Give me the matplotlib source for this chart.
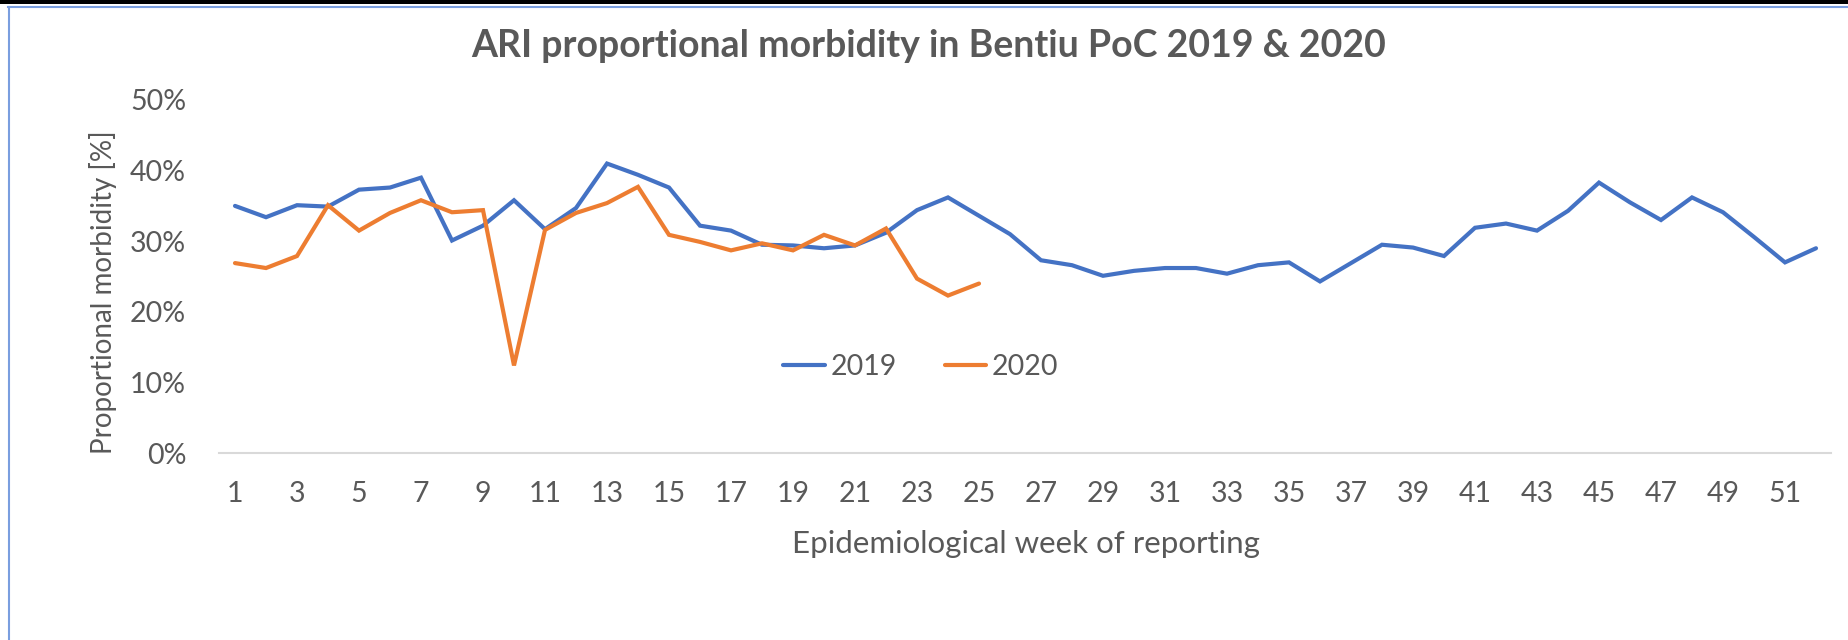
import matplotlib

matplotlib.use("Agg")
import matplotlib.pyplot as plt
from matplotlib.lines import Line2D
from matplotlib.patches import Rectangle

# --- data ---
weeks = list(range(1, 53))
ari_2019 = [35.0, 33.4, 35.1, 34.9, 37.3, 37.6, 39.0, 30.1, 32.2, 35.8,
            31.7, 34.7, 41.0, 39.4, 37.6, 32.2, 31.5, 29.5, 29.4, 29.0,
            29.4, 31.2, 34.4, 36.2, 33.6, 31.0, 27.3, 26.6, 25.1, 25.8,
            26.2, 26.2, 25.4, 26.6, 27.0, 24.3, 26.9, 29.5, 29.1, 27.9,
            31.9, 32.5, 31.5, 34.3, 38.3, 35.5, 33.0, 36.2, 34.1, 30.6,
            27.0, 29.0]
ari_2020 = [26.9, 26.2, 27.9, 35.1, 31.5, 34.0, 35.8, 34.1, 34.4, 12.4,
            31.6, 34.0, 35.4, 37.7, 30.9, 29.9, 28.7, 29.7, 28.7, 30.9,
            29.4, 31.8, 24.7, 22.3, 24.0]
y_ticks = [0, 10, 20, 30, 40, 50]
x_ticks = weeks[::2]

BLUE = "#4472C4"
ORANGE = "#ED7D31"
TEXT = "#595959"
W, H = 1849, 640

plt.rcParams["font.family"] = ["Lato", "DejaVu Sans"]

fig = plt.figure(figsize=(W / 100, H / 100), dpi=100)
ax = fig.add_axes([219.5 / W, 1 - 453 / H, 1612 / W, 353 / H])

ax.plot(weeks, ari_2019, color=BLUE, lw=3, label="2019",
        solid_joinstyle="miter", solid_capstyle="round")
ax.plot(weeks[:len(ari_2020)], ari_2020, color=ORANGE, lw=3, label="2020",
        solid_joinstyle="miter", solid_capstyle="round")

ax.set_xlim(0.5, 52.5)
ax.set_ylim(0, 50)
ax.set_xticks(x_ticks)
ax.set_xticklabels([str(w) for w in x_ticks])
ax.set_yticks(y_ticks)
ax.set_yticklabels([f"{v}%" for v in y_ticks])
ax.tick_params(length=0, labelsize=20.5, labelcolor=TEXT)
ax.tick_params(axis="x", pad=20)
ax.tick_params(axis="y", pad=24)

for s in ["top", "right", "left"]:
    ax.spines[s].set_visible(False)
ax.spines["bottom"].set_color("#D9D9D9")
ax.spines["bottom"].set_linewidth(1.5)

leg = ax.legend(loc="center", bbox_to_anchor=(921 / W, 1 - 367 / H),
                bbox_transform=fig.transFigure, ncol=2, frameon=False,
                fontsize=20.5, handlelength=1.45, handletextpad=0.2,
                columnspacing=1.7)
for t in leg.get_texts():
    t.set_color(TEXT)

fig.text(929 / W, 1 - 57 / H, "ARI proportional morbidity in Bentiu PoC 2019 & 2020",
         ha="center", va="baseline", fontsize=27, fontweight="bold", color=TEXT)
fig.text(1026 / W, 1 - 553 / H, "Epidemiological week of reporting",
         ha="center", va="baseline", fontsize=22.5, color=TEXT)
fig.text(103 / W, 1 - 292 / H, "Proportional morbidity [%]",
         ha="center", va="center", rotation=90, fontsize=20, color=TEXT)

# page frame: black bar on top, thin blue chart border
fig.add_artist(Rectangle((0, 1 - 4 / H), 1, 4 / H, transform=fig.transFigure,
                         facecolor="black", edgecolor="none"))
fig.add_artist(Line2D([8 / W, 1], [1 - 6.5 / H, 1 - 6.5 / H],
                      transform=fig.transFigure, color="#7A9EDF", lw=1.5))
fig.add_artist(Line2D([9 / W, 9 / W], [0, 1 - 6.5 / H],
                      transform=fig.transFigure, color="#7A9EDF", lw=1.5))

fig.savefig("out.png", dpi=100)
